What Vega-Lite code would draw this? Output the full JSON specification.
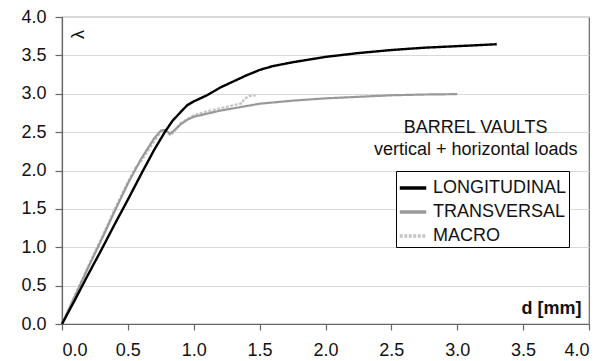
{
  "$schema": "https://vega.github.io/schema/vega-lite/v6.json",
  "width": 527,
  "height": 307,
  "autosize": {"type": "none"},
  "padding": {"left": 62, "top": 17, "right": 14, "bottom": 37},
  "background": "white",
  "config": {
    "font": "Liberation Sans",
    "view": {"stroke": "#666", "strokeWidth": 1.2},
    "axis": {
      "labelFont": "Liberation Sans",
      "labelFontSize": 18,
      "labelColor": "#111",
      "labelOverlap": false,
      "domainColor": "#666",
      "tickColor": "#666",
      "domainWidth": 1.2,
      "tickWidth": 1.2
    },
    "axisX": {
      "grid": false,
      "tickSize": 6,
      "labelPadding": 11,
      "titleFont": "Liberation Sans",
      "titleFontSize": 18,
      "titleFontWeight": "bold",
      "titleColor": "#111",
      "titleAnchor": null,
      "titleAlign": "right",
      "titleBaseline": "middle",
      "titleX": 519,
      "titleY": -16
    },
    "axisY": {
      "grid": true,
      "gridColor": "#d9d9d9",
      "gridWidth": 1.2,
      "tickSize": 7,
      "labelPadding": 9,
      "titleFont": "Liberation Sans",
      "titleFontSize": 18,
      "titleFontWeight": "normal",
      "titleColor": "#111",
      "titleAngle": 270,
      "titleAnchor": null,
      "titleAlign": "center",
      "titleBaseline": "middle",
      "titleX": 16,
      "titleY": 17
    },
    "legend": {
      "labelFont": "Liberation Sans",
      "labelFontSize": 18,
      "labelColor": "#111"
    }
  },
  "datasets": {
    "curves": [
      {"series": "LONGITUDINAL", "d": 0, "lambda": 0},
      {"series": "LONGITUDINAL", "d": 0.1, "lambda": 0.32},
      {"series": "LONGITUDINAL", "d": 0.2, "lambda": 0.65},
      {"series": "LONGITUDINAL", "d": 0.3, "lambda": 0.97},
      {"series": "LONGITUDINAL", "d": 0.4, "lambda": 1.3},
      {"series": "LONGITUDINAL", "d": 0.5, "lambda": 1.62},
      {"series": "LONGITUDINAL", "d": 0.6, "lambda": 1.95},
      {"series": "LONGITUDINAL", "d": 0.7, "lambda": 2.27},
      {"series": "LONGITUDINAL", "d": 0.78, "lambda": 2.5},
      {"series": "LONGITUDINAL", "d": 0.84, "lambda": 2.65},
      {"series": "LONGITUDINAL", "d": 0.9, "lambda": 2.76},
      {"series": "LONGITUDINAL", "d": 0.95, "lambda": 2.85},
      {"series": "LONGITUDINAL", "d": 1.0, "lambda": 2.9},
      {"series": "LONGITUDINAL", "d": 1.1, "lambda": 2.98},
      {"series": "LONGITUDINAL", "d": 1.2, "lambda": 3.08},
      {"series": "LONGITUDINAL", "d": 1.3, "lambda": 3.16},
      {"series": "LONGITUDINAL", "d": 1.4, "lambda": 3.24},
      {"series": "LONGITUDINAL", "d": 1.5, "lambda": 3.31},
      {"series": "LONGITUDINAL", "d": 1.6, "lambda": 3.36},
      {"series": "LONGITUDINAL", "d": 1.75, "lambda": 3.41},
      {"series": "LONGITUDINAL", "d": 2.0, "lambda": 3.48},
      {"series": "LONGITUDINAL", "d": 2.25, "lambda": 3.53},
      {"series": "LONGITUDINAL", "d": 2.5, "lambda": 3.57},
      {"series": "LONGITUDINAL", "d": 2.75, "lambda": 3.6},
      {"series": "LONGITUDINAL", "d": 3.0, "lambda": 3.62},
      {"series": "LONGITUDINAL", "d": 3.3, "lambda": 3.645},
      {"series": "TRANSVERSAL", "d": 0, "lambda": 0},
      {"series": "TRANSVERSAL", "d": 0.1, "lambda": 0.37},
      {"series": "TRANSVERSAL", "d": 0.2, "lambda": 0.74},
      {"series": "TRANSVERSAL", "d": 0.3, "lambda": 1.1},
      {"series": "TRANSVERSAL", "d": 0.4, "lambda": 1.47},
      {"series": "TRANSVERSAL", "d": 0.5, "lambda": 1.83},
      {"series": "TRANSVERSAL", "d": 0.6, "lambda": 2.15},
      {"series": "TRANSVERSAL", "d": 0.7, "lambda": 2.42},
      {"series": "TRANSVERSAL", "d": 0.75, "lambda": 2.52},
      {"series": "TRANSVERSAL", "d": 0.78, "lambda": 2.53},
      {"series": "TRANSVERSAL", "d": 0.82, "lambda": 2.48},
      {"series": "TRANSVERSAL", "d": 0.85, "lambda": 2.52},
      {"series": "TRANSVERSAL", "d": 0.9, "lambda": 2.6},
      {"series": "TRANSVERSAL", "d": 0.95, "lambda": 2.66},
      {"series": "TRANSVERSAL", "d": 1.0, "lambda": 2.7},
      {"series": "TRANSVERSAL", "d": 1.1, "lambda": 2.74},
      {"series": "TRANSVERSAL", "d": 1.2, "lambda": 2.78},
      {"series": "TRANSVERSAL", "d": 1.3, "lambda": 2.81},
      {"series": "TRANSVERSAL", "d": 1.5, "lambda": 2.87},
      {"series": "TRANSVERSAL", "d": 1.75, "lambda": 2.91},
      {"series": "TRANSVERSAL", "d": 2.0, "lambda": 2.94},
      {"series": "TRANSVERSAL", "d": 2.25, "lambda": 2.96},
      {"series": "TRANSVERSAL", "d": 2.5, "lambda": 2.98},
      {"series": "TRANSVERSAL", "d": 2.75, "lambda": 2.99},
      {"series": "TRANSVERSAL", "d": 3.0, "lambda": 2.995},
      {"series": "MACRO", "d": 0, "lambda": 0},
      {"series": "MACRO", "d": 0.1, "lambda": 0.38},
      {"series": "MACRO", "d": 0.2, "lambda": 0.76},
      {"series": "MACRO", "d": 0.3, "lambda": 1.12},
      {"series": "MACRO", "d": 0.4, "lambda": 1.5},
      {"series": "MACRO", "d": 0.5, "lambda": 1.85},
      {"series": "MACRO", "d": 0.55, "lambda": 2.02},
      {"series": "MACRO", "d": 0.6, "lambda": 2.12},
      {"series": "MACRO", "d": 0.7, "lambda": 2.38},
      {"series": "MACRO", "d": 0.75, "lambda": 2.5},
      {"series": "MACRO", "d": 0.78, "lambda": 2.52},
      {"series": "MACRO", "d": 0.82, "lambda": 2.46},
      {"series": "MACRO", "d": 0.85, "lambda": 2.5},
      {"series": "MACRO", "d": 0.9, "lambda": 2.62},
      {"series": "MACRO", "d": 1.0, "lambda": 2.72},
      {"series": "MACRO", "d": 1.1, "lambda": 2.77},
      {"series": "MACRO", "d": 1.2, "lambda": 2.81},
      {"series": "MACRO", "d": 1.3, "lambda": 2.85},
      {"series": "MACRO", "d": 1.37, "lambda": 2.88},
      {"series": "MACRO", "d": 1.38, "lambda": 2.93},
      {"series": "MACRO", "d": 1.42, "lambda": 2.97},
      {"series": "MACRO", "d": 1.47, "lambda": 2.98}
    ],
    "notes": [
      {"text": "BARREL VAULTS", "d": 3.14, "lambda": 2.55},
      {"text": "vertical + horizontal loads", "d": 3.14, "lambda": 2.27}
    ]
  },
  "layer": [
    {
      "mark": {"type": "rect", "fill": "white"},
      "encoding": {
        "x": {"datum": 2.32, "type": "quantitative", "scale": {"domain": [0, 4], "nice": false}, "axis": {"title": "d [mm]", "values": [0, 0.5, 1, 1.5, 2, 2.5, 3, 3.5, 4], "tickCount": 20, "format": ".1f"}},
        "x2": {"datum": 3.93},
        "y": {"datum": 2.13, "type": "quantitative", "scale": {"domain": [0, 4], "nice": false}, "axis": {"title": "λ", "values": [0, 0.5, 1, 1.5, 2, 2.5, 3, 3.5, 4], "tickCount": 20, "format": ".1f"}},
        "y2": {"datum": 2.72}
      }
    },
    {
      "data": {"name": "curves"},
      "transform": [{"filter": "datum.series === 'MACRO'"}],
      "mark": {"type": "line", "strokeWidth": 2.2},
      "encoding": {
        "x": {"field": "d", "type": "quantitative", "axis": {"title": "d [mm]", "values": [0, 0.5, 1, 1.5, 2, 2.5, 3, 3.5, 4], "tickCount": 20, "format": ".1f"}},
        "y": {"field": "lambda", "type": "quantitative", "axis": {"title": "λ", "values": [0, 0.5, 1, 1.5, 2, 2.5, 3, 3.5, 4], "tickCount": 20, "format": ".1f"}},
        "order": {"field": "d", "type": "quantitative"},
        "color": {"field": "series", "type": "nominal"},
        "strokeDash": {"field": "series", "type": "nominal"}
      }
    },
    {
      "data": {"name": "curves"},
      "transform": [{"filter": "datum.series === 'TRANSVERSAL'"}],
      "mark": {"type": "line", "strokeWidth": 2.2},
      "encoding": {
        "x": {"field": "d", "type": "quantitative", "axis": {"title": "d [mm]", "values": [0, 0.5, 1, 1.5, 2, 2.5, 3, 3.5, 4], "tickCount": 20, "format": ".1f"}},
        "y": {"field": "lambda", "type": "quantitative", "axis": {"title": "λ", "values": [0, 0.5, 1, 1.5, 2, 2.5, 3, 3.5, 4], "tickCount": 20, "format": ".1f"}},
        "order": {"field": "d", "type": "quantitative"},
        "color": {"field": "series", "type": "nominal"},
        "strokeDash": {"field": "series", "type": "nominal"}
      }
    },
    {
      "data": {"name": "curves"},
      "transform": [{"filter": "datum.series === 'LONGITUDINAL'"}],
      "mark": {"type": "line", "strokeWidth": 2.4},
      "encoding": {
        "x": {"field": "d", "type": "quantitative", "axis": {"title": "d [mm]", "values": [0, 0.5, 1, 1.5, 2, 2.5, 3, 3.5, 4], "tickCount": 20, "format": ".1f"}},
        "y": {"field": "lambda", "type": "quantitative", "axis": {"title": "λ", "values": [0, 0.5, 1, 1.5, 2, 2.5, 3, 3.5, 4], "tickCount": 20, "format": ".1f"}},
        "order": {"field": "d", "type": "quantitative"},
        "color": {
          "field": "series", "type": "nominal",
          "scale": {"domain": ["LONGITUDINAL", "TRANSVERSAL", "MACRO"], "range": ["#000000", "#999999", "#c4c4c4"]},
          "legend": {
            "title": null,
            "orient": "none",
            "legendX": 334,
            "legendY": 154,
            "direction": "vertical",
            "symbolType": "stroke",
            "symbolSize": 700,
            "symbolStrokeWidth": 3.5,
            "strokeColor": "#000",
            "fillColor": "white",
            "padding": 2,
            "rowPadding": 0,
            "labelOffset": 5,
            "labelLimit": 300
          }
        },
        "strokeDash": {
          "field": "series", "type": "nominal",
          "scale": {"domain": ["LONGITUDINAL", "TRANSVERSAL", "MACRO"], "range": [[1, 0], [1, 0], [3, 1.5]]},
          "legend": {
            "title": null,
            "orient": "none",
            "legendX": 334,
            "legendY": 154,
            "direction": "vertical",
            "symbolType": "stroke",
            "symbolSize": 700,
            "symbolStrokeWidth": 3.5,
            "strokeColor": "#000",
            "fillColor": "white",
            "padding": 2,
            "rowPadding": 0,
            "labelOffset": 5,
            "labelLimit": 300
          }
        }
      }
    },
    {
      "data": {"name": "notes"},
      "mark": {"type": "text", "font": "Liberation Sans", "fontSize": 18, "color": "#111", "align": "center", "baseline": "middle"},
      "encoding": {
        "x": {"field": "d", "type": "quantitative"},
        "y": {"field": "lambda", "type": "quantitative"},
        "text": {"field": "text"}
      }
    }
  ]
}
